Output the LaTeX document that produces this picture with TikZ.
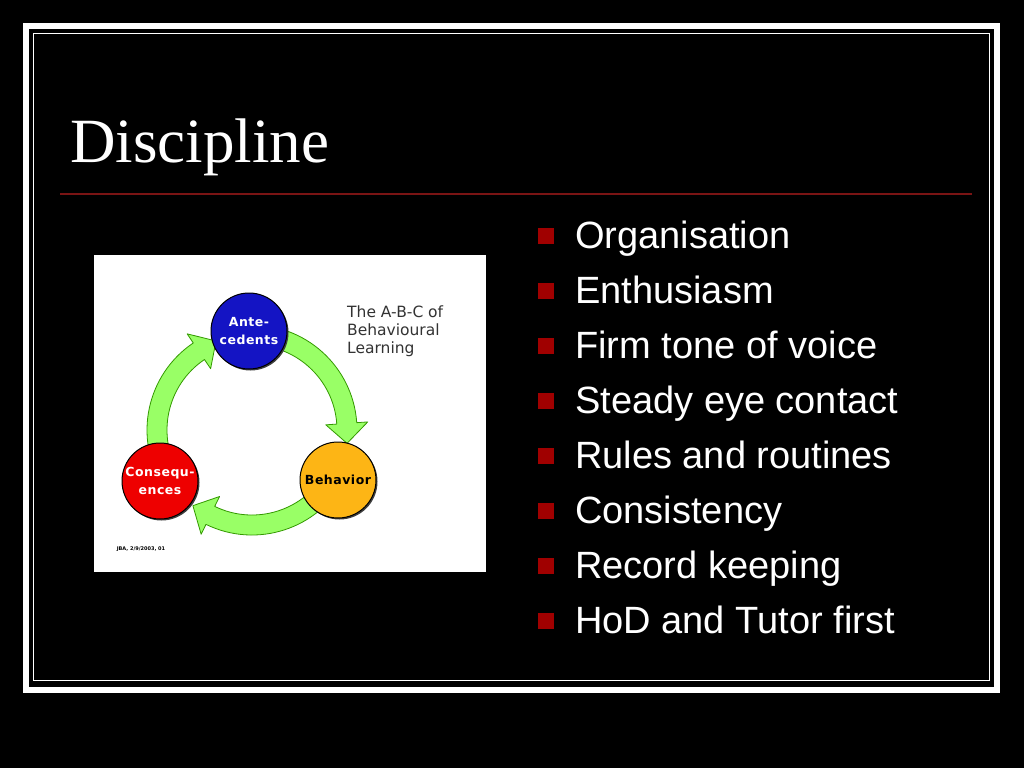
\documentclass[tikz,border=0pt]{standalone}
\usepackage{fontspec}
\setmainfont{Liberation Serif}
\setsansfont{Liberation Sans}
\newfontfamily\abcfont{DejaVu Sans}
\newfontfamily\ringfont[LetterSpace=4]{DejaVu Sans}
\usetikzlibrary{positioning,shadows}
\definecolor{slidered}{HTML}{A00000}
\definecolor{rulered}{HTML}{7A1414}
\definecolor{abcblue}{HTML}{1414C4}
\definecolor{abcamber}{HTML}{FDB515}
\definecolor{abcred}{HTML}{EE0000}
\definecolor{loopgreen}{HTML}{99FF66}
\definecolor{loopedge}{HTML}{339900}
\definecolor{notegrey}{HTML}{333333}
\tikzset{
	frame/.style    = {draw=white, line width=6pt},
	innerframe/.style = {draw=white, line width=1.5pt},
	bullet/.style   = {shape=rectangle, fill=slidered, minimum size=16pt, inner sep=0pt},
	item/.style     = {anchor=base west, inner sep=0pt, text=white,
		font=\sffamily\fontsize{38}{44}\selectfont},
	ring/.style     = {circle, draw=black, line width=1pt, minimum size=76pt,
		inner sep=0pt, align=center, font=\ringfont\bfseries\fontsize{12.5}{18.5}\selectfont,
		drop shadow={shadow xshift=1.5pt, shadow yshift=-1.5pt, fill=black!75, opacity=1}},
	loop/.style     = {fill=loopgreen, draw=loopedge, line width=0.8pt, line join=round},
	note/.style     = {anchor=north west, inner sep=0pt, align=left, text=notegrey,
		font=\abcfont\fontsize{15.5}{18}\selectfont},
}

\begin{document}
\begin{tikzpicture}[x=1pt, y=1pt]
% slide background and frame
\fill[black] (0,0) rectangle (1024,-768);
\useasboundingbox (0,0) rectangle (1024,-768);
\draw[frame] (26,-26) rectangle (997,-690);
\draw[innerframe] (33.5,-33.5) rectangle (989.5,-680.5);

% title
\node[anchor=base west, inner sep=0pt, text=white, font=\fontsize{63}{70}\selectfont] (title) at (70,-162) {Discipline};
\draw[rulered, line width=1.2pt] (60,-194) -- (972,-194);

% bullet list
\foreach \t [count=\i] in {Organisation, Enthusiasm, Firm tone of voice, Steady eye contact,
	Rules and routines, Consistency, Record keeping, HoD and Tutor first}
{
	\node[item] (item\i) at (575,{-248-55*(\i-1)}) {\t};
	\node[bullet] (bul\i) at (545.5,{-236-55*(\i-1)}) {};
}

% the A-B-C picture
\fill[white] (94,-255) rectangle (486,-572);
\coordinate (hub) at (252,-430);
\begin{scope}[shift={(hub)}]
	\foreach \s in {0,120,240}
	\filldraw[loop, rotate=-\s] (92:105) arc[start angle=92, end angle=4, radius=105]
		-- (4:116) -- (-8:96) -- (4:74) -- (4:85)
		arc[start angle=4, end angle=92, radius=85] -- cycle;
\end{scope}

\node[ring, fill=abcblue, text=white] (ante) at (249,-331) {Ante-\\cedents};
\node[ring, fill=abcamber, text=black] (behav) at (338,-480) {Behavior};
\node[ring, fill=abcred, text=white] (conseq) at (160,-481) {Consequ-\\ences};

\node[note] (abc) at (347,-306) {The A-B-C of\\Behavioural\\Learning};
\node[inner sep=0pt, font=\abcfont\bfseries\fontsize{5}{6}\selectfont] (stamp) at (141,-549) {JBA, 2/9/2003, 01};
\end{tikzpicture}
\end{document}
